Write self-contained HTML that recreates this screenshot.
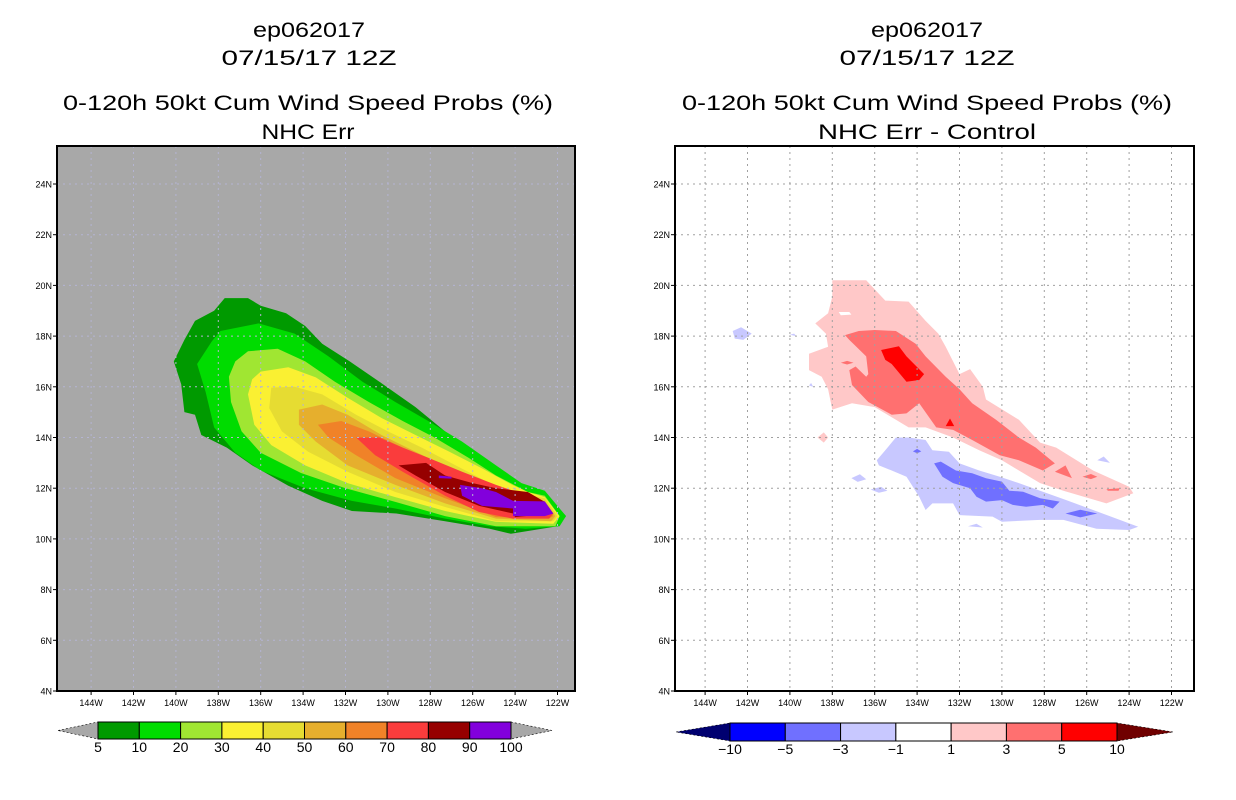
<!DOCTYPE html>
<html><head><meta charset="utf-8"><style>
html,body{margin:0;padding:0;background:#fff;}
svg{display:block;font-family:"Liberation Sans",sans-serif;}
</style></head><body>
<svg id="root" width="1236" height="800" viewBox="0 0 1236 800" xmlns="http://www.w3.org/2000/svg">
<g font-size="21" text-anchor="middle" fill="#000">
<text x="309" y="37" textLength="112" lengthAdjust="spacingAndGlyphs">ep062017</text>
<text x="309" y="65" textLength="175" lengthAdjust="spacingAndGlyphs">07/15/17 12Z</text>
<text x="308" y="110" textLength="490" lengthAdjust="spacingAndGlyphs">0-120h 50kt Cum Wind Speed Probs (%)</text>
<text x="308" y="139" textLength="93" lengthAdjust="spacingAndGlyphs">NHC Err</text>
</g>
<g font-size="21" text-anchor="middle" fill="#000">
<text x="927" y="37" textLength="112" lengthAdjust="spacingAndGlyphs">ep062017</text>
<text x="927" y="65" textLength="175" lengthAdjust="spacingAndGlyphs">07/15/17 12Z</text>
<text x="927" y="110" textLength="490" lengthAdjust="spacingAndGlyphs">0-120h 50kt Cum Wind Speed Probs (%)</text>
<text x="927" y="139" textLength="218" lengthAdjust="spacingAndGlyphs">NHC Err - Control</text>
</g>
<defs>
<clipPath id="clipL"><rect x="57" y="146" width="518" height="545"/></clipPath>
<clipPath id="clipR"><rect x="675" y="146" width="519" height="545"/></clipPath>
</defs>
<g id="panelL"></g>
<g id="panelR"></g>
<g id="cbL"></g>
<g id="cbR"></g>
</svg>
<script>
const NS="http://www.w3.org/2000/svg";
// axis ticks
const lonTicks=[144,142,140,138,136,134,132,130,128,126,124,122];
const latTicks=[4,6,8,10,12,14,16,18,20,22,24];
// left panel probability contours (lon W, lat N)
const probLevels=[5,10,20,30,40,50,60,70,80,90,100];
const probColors=["#009a00","#00dc00","#a0e632","#faf032","#e6dc32","#e6af2d","#f08228","#fa3c3c","#960000","#8200dc"];
const prob5=[[137.7,19.5],[136.6,19.5],[136.0,19.2],[134.8,18.9],[133.9,18.4],[133.1,17.7],[131.8,17.0],[130.4,16.2],[128.7,15.2],[127.1,14.1],[125.9,13.3],[124.3,12.5],[123.4,12.0],[122.6,11.85],[121.6,10.9],[122.0,10.5],[124.2,10.2],[125.2,10.4],[127.3,10.7],[129.6,11.0],[131.7,11.1],[133.1,11.5],[134.7,12.1],[136.4,12.9],[137.6,13.6],[138.8,14.1],[139.1,14.9],[139.6,15.0],[139.75,16.1],[140.1,17.0],[139.6,17.85],[139.1,18.6],[138.2,19.0]];
const prob10=[[137.9,18.2],[136.1,18.5],[134.4,18.1],[132.8,17.2],[131.2,16.2],[129.65,15.4],[128.1,14.65],[126.5,13.84],[124.9,12.9],[123.7,12.2],[122.6,11.9],[121.6,10.9],[121.9,10.5],[123.5,10.4],[125.2,10.5],[127.3,10.8],[129.65,11.2],[131.7,11.5],[133.9,12.0],[136.0,12.7],[137.2,13.4],[138.2,14.4],[138.6,15.8],[139.0,16.9],[138.3,17.8]];
const prob20=[[136.6,17.4],[135.2,17.5],[133.9,17.0],[132.5,16.2],[130.9,15.4],[129.3,14.65],[127.8,14.0],[126.2,13.2],[124.9,12.5],[123.4,11.85],[122.6,11.7],[121.9,10.9],[122.1,10.5],[124.9,10.5],[127.3,10.9],[129.65,11.46],[132.0,12.0],[134.1,12.6],[136.0,13.4],[136.9,14.24],[137.4,15.4],[137.5,16.4],[137.2,17.0]];
const prob30=[[136.0,16.6],[134.7,16.77],[133.4,16.37],[131.9,15.57],[130.3,14.77],[128.7,14.1],[127.1,13.44],[125.56,12.78],[124.13,12.13],[123.4,11.85],[122.6,11.65],[121.9,10.9],[122.2,10.6],[124.9,10.67],[127.3,11.1],[129.65,11.65],[131.9,12.2],[133.9,12.9],[135.5,13.7],[136.3,14.5],[136.6,15.7],[136.4,16.3]];
const prob40=[[135.5,15.97],[134.4,16.0],[133.1,15.7],[131.5,14.9],[130.0,14.24],[128.4,13.6],[126.8,12.9],[125.2,12.2],[124.0,11.85],[122.6,11.6],[122.0,10.9],[122.2,10.7],[124.9,10.7],[127.3,11.26],[129.65,11.85],[131.9,12.65],[133.76,13.44],[135.0,14.24],[135.6,15.16]];
const prob50=[[134.2,15.1],[133.1,15.3],[131.9,14.9],[130.3,14.1],[128.7,13.44],[127.1,12.78],[125.56,12.13],[124.0,11.7],[122.6,11.5],[122.1,10.9],[122.3,10.7],[124.9,10.8],[127.3,11.4],[129.65,12.13],[131.9,12.9],[133.4,13.84],[134.2,14.5]];
const prob60=[[133.3,14.5],[132.2,14.65],[130.9,14.24],[129.3,13.6],[127.8,13.05],[126.2,12.5],[124.6,12.0],[122.6,11.46],[122.2,10.9],[122.4,10.8],[124.9,10.86],[127.3,11.6],[129.65,12.4],[131.5,13.3],[132.8,14.0]];
const prob70=[[131.5,14.0],[130.4,14.0],[129.3,13.6],[128.1,13.2],[126.5,12.65],[124.9,12.13],[123.4,11.7],[122.6,11.46],[122.2,11.0],[122.4,10.8],[124.1,10.8],[125.7,11.06],[127.3,11.7],[129.3,12.65],[130.6,13.3]];
const prob80=[[129.5,12.9],[128.2,13.0],[127.3,12.5],[126.0,12.2],[124.9,12.0],[123.4,11.85],[122.6,11.46],[122.3,11.0],[124.0,10.86],[124.1,11.0],[125.7,11.3],[127.3,11.85],[128.7,12.5]];
const prob90=[[126.6,12.13],[125.56,12.0],[124.9,11.85],[124.1,11.5],[122.6,11.48],[122.2,11.0],[122.6,10.9],[124.1,10.9],[124.1,11.2],[125.56,11.3],[126.5,11.7]];
const prob90b=[[127.6,12.5],[127.0,12.45],[127.0,12.38],[127.6,12.4]];
// right panel difference contours
const diffLevels=[-10,-5,-3,-1,1,3,5,10];
const diffColors=["#0000ff","#7070ff","#c8c8ff","#ffffff","#ffc8c8","#ff7070","#ff0000"];
const pos1=[[138.0,20.2],[136.4,20.2],[135.5,19.4],[134.4,19.36],[133.6,18.6],[133.0,18.1],[132.65,17.58],[132.0,16.5],[131.5,16.7],[130.9,16.0],[130.75,15.5],[129.2,14.7],[128.2,13.8],[127.44,13.6],[125.7,12.7],[124.0,12.06],[123.8,11.8],[125.07,11.4],[127.1,11.9],[128.2,12.2],[129.2,12.7],[130.0,13.1],[131.07,13.5],[132.3,14.0],[133.6,14.4],[134.4,14.4],[135.2,14.8],[136.0,15.2],[137.07,15.35],[138.0,15.1],[138.2,15.9],[138.5,16.4],[139.1,16.66],[139.1,17.3],[138.2,17.58],[138.3,18.1],[138.8,18.5],[138.2,18.9],[138.0,19.55]];
const pos1hole=[[137.7,18.95],[137.2,18.95],[137.1,18.85],[137.6,18.82]];
const pos1b=[[138.7,14.0],[138.4,14.2],[138.2,14.0],[138.4,13.8]];
const pos3=[[137.4,18.04],[136.75,18.2],[136.0,18.24],[135.0,18.2],[134.07,17.7],[133.6,17.2],[132.65,16.4],[132.0,15.9],[131.4,15.35],[130.28,14.7],[129.2,14.0],[128.4,13.6],[127.5,12.98],[128.07,12.7],[129.2,13.1],[130.1,13.3],[131.4,13.9],[132.3,14.3],[133.1,14.4],[133.9,15.35],[134.5,14.95],[135.2,14.9],[136.3,15.4],[137.07,16.07],[137.2,16.66],[136.9,16.8],[136.4,16.4],[136.3,16.5],[136.4,17.2],[137.2,17.85]];
const pos3b=[[127.5,12.65],[127.0,12.9],[126.7,12.4]];
const pos3c=[[126.2,12.45],[125.8,12.56],[125.5,12.45],[125.8,12.36]];
const pos3d=[[125.07,11.96],[124.44,12.0],[124.5,11.9],[125.0,11.9]];
const pos3e=[[137.6,16.95],[137.3,17.02],[137.0,16.95],[137.3,16.88]];
const pos5=[[135.7,17.45],[134.86,17.6],[134.5,17.2],[133.67,16.5],[133.9,16.27],[134.5,16.2],[135.2,16.9],[135.5,17.06]];
const pos5b=[[132.65,14.45],[132.45,14.75],[132.25,14.45]];
const neg1=[[135.0,14.0],[134.4,14.0],[133.6,13.9],[133.28,13.5],[132.5,13.44],[132.0,12.98],[131.07,12.7],[130.1,12.45],[129.2,12.2],[128.2,11.9],[126.96,11.53],[125.7,11.14],[124.44,10.75],[123.57,10.48],[124.0,10.35],[125.54,10.4],[127.1,10.75],[128.2,10.75],[130.0,10.68],[130.44,10.88],[132.0,10.94],[132.3,11.4],[133.28,11.4],[133.6,11.14],[133.9,11.66],[134.5,12.45],[135.2,12.7],[135.8,12.9],[135.9,13.1],[135.5,13.5]];
const neg1b=[[142.7,18.2],[142.3,18.35],[141.8,18.1],[142.2,17.85],[142.6,17.9]];
const neg1c=[[137.1,12.4],[136.7,12.55],[136.4,12.35],[136.8,12.25]];
const neg1d=[[136.2,11.95],[135.7,12.05],[135.4,11.9],[135.8,11.82]];
const neg1e=[[125.5,13.1],[125.2,13.25],[124.9,13.0]];
const neg1f=[[131.6,10.5],[131.2,10.6],[130.9,10.45]];
const neg1g=[[140.0,18.05],[139.8,18.1],[139.7,18.0]];
const neg1h=[[139.1,16.05],[139.0,16.15],[138.9,16.0]];
const neg3=[[133.2,12.98],[132.88,13.05],[132.17,12.7],[131.4,12.59],[130.75,12.39],[130.0,12.26],[129.65,11.9],[129.0,11.86],[128.2,11.6],[127.28,11.47],[127.6,11.2],[128.07,11.34],[128.86,11.27],[129.49,11.34],[130.0,11.53],[130.75,11.47],[131.2,11.66],[131.5,12.0],[132.3,12.2],[132.8,12.45]];
const neg3b=[[127.0,11.0],[126.3,11.15],[125.5,11.0],[126.3,10.85]];
const neg3c=[[134.2,13.45],[134.0,13.55],[133.8,13.45],[134.0,13.38]];

const L={x0:57,y0:146,w:518,h:545,lonRef:122,xRef:557.5};
const R={x0:675,y0:146,w:519,h:545,lonRef:122,xRef:1171.5};
const degX=21.2, degY=25.35;
function xs(p,lon){return p.xRef-(lon-p.lonRef)*degX;}
function ys(p,lat){return 691-(lat-4)*degY;}
function mk(tag,attrs,parent){const e=document.createElementNS(NS,tag);for(const k in attrs)e.setAttribute(k,attrs[k]);parent.appendChild(e);return e;}
function poly(p,pts,fill,parent,name){
  const d=pts.map(q=>xs(p,q[0]).toFixed(1)+","+ys(p,q[1]).toFixed(1)).join(" ");
  const e=mk("polygon",{points:d,fill:fill},parent);
  
  
  return e;
}
function frame(p,g,clip,bg){
  const bgr=mk("rect",{x:p.x0,y:p.y0,width:p.w,height:p.h,fill:bg},g);
  
  
  const c=mk("g",{"clip-path":"url(#"+clip+")"},g);
  
  
  return c;
}
function axes(p,g,gridColor){
  const gg=mk("g",{},g);
  
  
  lonTicks.forEach(l=>{const x=xs(p,l);const ln=mk("line",{x1:x,x2:x,y1:p.y0,y2:p.y0+p.h,stroke:gridColor,"stroke-width":1,"stroke-dasharray":"2,4"},gg);
    
    });
  latTicks.slice(1).forEach(l=>{const y=ys(p,l);const ln=mk("line",{x1:p.x0,x2:p.x0+p.w,y1:y,y2:y,stroke:gridColor,"stroke-width":1,"stroke-dasharray":"2,4"},gg);
    
    });
  const b=mk("rect",{x:p.x0,y:p.y0,width:p.w,height:p.h,fill:"none",stroke:"#000","stroke-width":2},g);
  
  
  const xa=mk("g",{"font-size":9,"text-anchor":"middle"},g);
  
  
  lonTicks.forEach(l=>{const x=xs(p,l);
    const t=mk("line",{x1:x,x2:x,y1:p.y0+p.h,y2:p.y0+p.h+4,stroke:"#000"},xa);
    
    
    const tx=mk("text",{x:x,y:p.y0+p.h+15},xa);tx.textContent=l+"W";
    
    });
  const ya=mk("g",{"font-size":9,"text-anchor":"end"},g);
  
  
  latTicks.forEach(l=>{const y=ys(p,l);
    const t=mk("line",{x1:p.x0-4,x2:p.x0,y1:y,y2:y,stroke:"#000"},ya);
    
    
    const tx=mk("text",{x:p.x0-5,y:y+3.5},ya);tx.textContent=l+"N";
    
    });
}
// left panel
const gL=document.getElementById("panelL");
const cL=frame(L,gL,"clipL","#a8a8a8");
[prob5,prob10,prob20,prob30,prob40,prob50,prob60,prob70,prob80,prob90].forEach((pts,i)=>poly(L,pts,probColors[i],cL,"prob-contour-"+probLevels[i]));
poly(L,prob90b,probColors[9],cL,"prob-contour-90-patch");
axes(L,gL,"#b4b4d2");
// right panel
const gR=document.getElementById("panelR");
const cR=frame(R,gR,"clipR","#ffffff");
poly(R,pos1,diffColors[4],cR,"diff-pos-1");
poly(R,pos1hole,"#ffffff",cR,"diff-pos-1-hole");
poly(R,pos1b,diffColors[4],cR,"diff-pos-1-patch");
[pos3,pos3b,pos3c,pos3d,pos3e].forEach(pts=>poly(R,pts,diffColors[5],cR,"diff-pos-3"));
[pos5,pos5b].forEach(pts=>poly(R,pts,diffColors[6],cR,"diff-pos-5"));
[neg1,neg1b,neg1c,neg1d,neg1e,neg1f,neg1g,neg1h].forEach(pts=>poly(R,pts,diffColors[2],cR,"diff-neg-1"));
[neg3,neg3b,neg3c].forEach(pts=>poly(R,pts,diffColors[1],cR,"diff-neg-3"));
axes(R,gR,"#a0a0a0");
// colorbars
function colorbar(g,x0,x1,tipL,tipR,y0,y1,colors,labels,leftTip,rightTip){
  const n=colors.length, w=(x1-x0)/n, ym=(y0+y1)/2;
  const a=mk("polygon",{points:`${tipL},${ym} ${x0},${y0} ${x0},${y1}`,fill:leftTip,stroke:"#000","stroke-width":0.6,"stroke-dasharray":"2,2"},g);
  
  
  const b=mk("polygon",{points:`${tipR},${ym} ${x1},${y0} ${x1},${y1}`,fill:rightTip,stroke:"#000","stroke-width":0.6,"stroke-dasharray":"2,2"},g);
  
  
  colors.forEach((c,i)=>{const r=mk("rect",{x:x0+i*w,y:y0,width:w,height:y1-y0,fill:c,stroke:"#000","stroke-width":1},g);
    
    });
  labels.forEach((l,i)=>{const t=mk("text",{x:x0+i*w,y:y1+13,"font-size":14,"text-anchor":"middle"},g);t.textContent=String(l).replace("-","\u2212");
    
    });
}
colorbar(document.getElementById("cbL"),98,511,58,552,722,739,probColors,probLevels,"#a8a8a8","#a8a8a8");
colorbar(document.getElementById("cbR"),730,1117,676,1173,723,741,diffColors,diffLevels,"#000070","#700000");
</script>
</body></html>
